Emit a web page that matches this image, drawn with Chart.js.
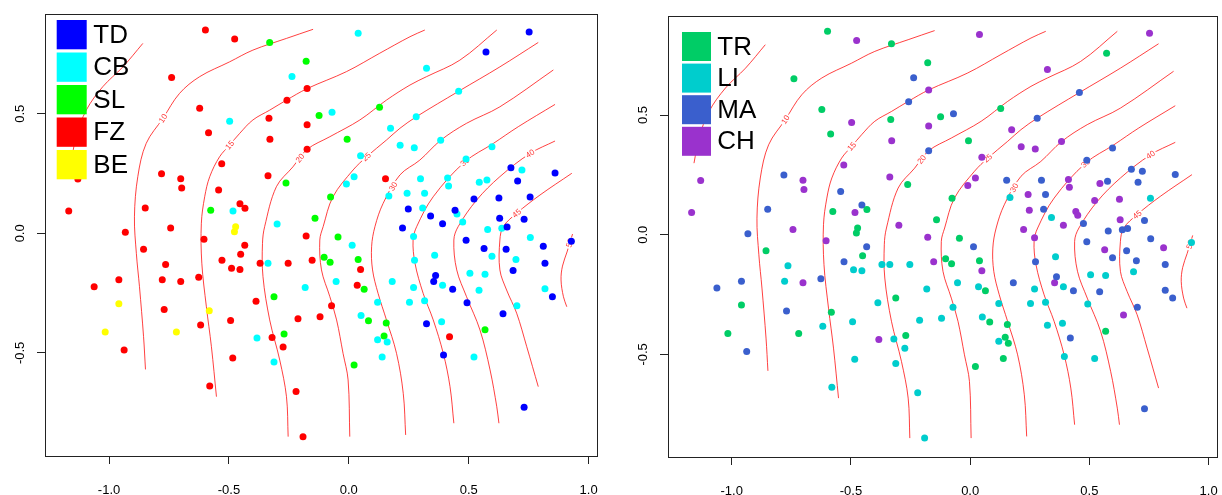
<!DOCTYPE html>
<html>
<head>
<meta charset="utf-8">
<script src="https://cdn.jsdelivr.net/npm/chart.js@4.4.0/dist/chart.umd.min.js"></script>
<style>
  html, body { margin: 0; padding: 0; background: #fff; }
  #wrap { position: relative; width: 1222px; height: 495px; }
  .panel { position: absolute; top: 0; width: 611px; height: 495px; }
  #left { left: 0; }
  #right { left: 611px; }
</style>
</head>
<body>
<div id="wrap">
  <div class="panel" id="left"><canvas id="chartL" width="611" height="495"></canvas></div>
  <div class="panel" id="right"><canvas id="chartR" width="611" height="495"></canvas></div>
</div>
<script>
// Sample positions (same points in both panels)
const ptX = [-0.598, -0.739, -0.622, -0.585, -0.497, -0.530, -0.781, -0.701, -0.697, -0.543,
  -1.168, -0.849, -0.576, -1.130, -0.743, -0.932, -0.483, -0.476, -0.330, 0.039,
  -0.178, -0.237, -0.174, -0.258, 0.128, -0.124, -0.070, -0.333, -0.174, -0.329,
  -0.007, 0.174, 0.214, -0.174, 0.049, -0.337, -0.262, 0.022, -0.010, 0.153,
  0.243, 0.167, 0.248, 0.224, -0.076, -0.454, -0.433, -0.472, -0.299, -0.141,
  0.752, 0.572, 0.324, 0.458, 0.281, 0.383, 0.273, 0.597, 0.489, 0.676,
  0.722, 0.860, 0.704, 0.299, 0.412, 0.416, 0.544, 0.576, 0.316, 0.522,
  0.626, 0.756, 0.308, 0.443, 0.451, 0.341, 0.391, 0.475, 0.629, 0.731,
  0.579, 0.638, 0.660, 0.270, 0.757, 0.928, 0.811, 0.489, 0.564, 0.656,
  0.358, 0.597, 0.274, 0.697, 0.818, 0.685, 0.505, 0.568, 0.362, 0.354,
  0.391, 0.433, 0.270, 0.543, 0.818, 0.849, 0.253, 0.316, 0.493, 0.701,
  0.643, 0.324, 0.387, 0.568, 0.420, 0.395, 0.522, 0.731, -0.477, -0.178,
  -0.045, 0.014, -0.434, -0.451, -0.529, -0.370, -0.337, -0.253, -0.153, -0.103,
  -0.078, 0.039, 0.049, -0.489, -0.454, -0.053, 0.181, 0.035, 0.064, -0.182,
  -0.312, -0.387, 0.120, -0.072, -0.493, -0.212, -0.120, 0.051, 0.082, 0.156,
  -0.383, -0.320, -0.270, -0.274, 0.147, 0.120, 0.160, -0.484, -0.312, 0.139,
  0.022, -0.220, -0.191, -0.604, -0.856, -0.764, -0.959, -0.778, -0.701, -0.626,
  -1.062, -0.959, -0.770, -0.582, -0.618, -1.016, -0.719, -0.937, -0.580];
const ptY = [0.850, 0.652, 0.523, 0.421, 0.469, 0.291, 0.249, 0.228, 0.189, 0.181,
  0.093, 0.106, 0.097, 0.227, 0.022, 0.004, 0.093, 0.812, 0.798, 0.837,
  0.719, 0.656, 0.605, 0.556, 0.527, 0.493, 0.506, 0.481, 0.454, 0.393,
  0.393, 0.439, 0.368, 0.351, 0.324, 0.241, 0.210, 0.237, 0.206, 0.228,
  0.168, 0.156, 0.102, 0.022, 0.152, 0.124, 0.105, 0.028, 0.039, 0.063,
  0.842, 0.758, 0.690, 0.594, 0.487, 0.389, 0.358, 0.362, 0.311, 0.274,
  0.265, 0.252, 0.219, 0.228, 0.231, 0.198, 0.214, 0.223, 0.168, 0.143,
  0.148, 0.152, 0.106, 0.097, 0.081, 0.072, 0.040, 0.047, 0.063, 0.059,
  0.016, 0.021, 0.026, -0.013, -0.017, -0.033, -0.054, -0.029, -0.063, -0.067,
  -0.092, -0.096, -0.113, -0.109, -0.125, -0.155, -0.167, -0.171, -0.176, -0.201,
  -0.217, -0.234, -0.227, -0.238, -0.232, -0.265, -0.288, -0.282, -0.290, -0.303,
  -0.336, -0.378, -0.370, -0.403, -0.432, -0.509, -0.517, -0.727, 0.007, -0.011,
  -0.015, -0.050, -0.050, -0.088, -0.113, -0.125, -0.125, -0.125, -0.113, -0.100,
  -0.121, -0.109, -0.151, -0.146, -0.151, -0.201, -0.201, -0.217, -0.234, -0.227,
  -0.265, -0.284, -0.288, -0.303, -0.364, -0.357, -0.349, -0.344, -0.365, -0.375,
  -0.438, -0.436, -0.421, -0.475, -0.429, -0.445, -0.454, -0.521, -0.538, -0.517,
  -0.551, -0.661, -0.850, -0.025, -0.067, -0.130, -0.194, -0.194, -0.201, -0.184,
  -0.223, -0.294, -0.319, -0.324, -0.383, -0.413, -0.413, -0.488, -0.638];

// Group of each point, left panel and right panel
const groupLeft = ['FZ','FZ','FZ','FZ','CB','FZ','FZ','FZ','FZ','FZ',
  'FZ','FZ','SL','FZ','FZ','FZ','CB','FZ','SL','CB',
  'SL','CB','FZ','FZ','SL','SL','CB','FZ','FZ','FZ',
  'SL','CB','CB','FZ','CB','FZ','SL','CB','CB','FZ',
  'CB','CB','TD','TD','SL','FZ','FZ','BE','CB','SL',
  'TD','TD','CB','CB','CB','CB','CB','CB','CB','TD',
  'CB','TD','TD','CB','CB','CB','CB','CB','CB','TD',
  'TD','TD','CB','TD','CB','TD','TD','CB','TD','TD',
  'CB','CB','TD','CB','CB','TD','TD','TD','TD','TD',
  'CB','CB','CB','CB','TD','TD','CB','CB','TD','TD',
  'CB','TD','CB','CB','CB','TD','CB','CB','TD','CB',
  'TD','TD','CB','SL','FZ','TD','CB','TD','BE','FZ',
  'SL','CB','FZ','FZ','FZ','FZ','CB','FZ','FZ','SL',
  'SL','SL','FZ','FZ','FZ','CB','CB','FZ','SL','CB',
  'SL','FZ','CB','FZ','FZ','FZ','FZ','CB','SL','SL',
  'CB','FZ','SL','FZ','SL','CB','CB','FZ','CB','CB',
  'SL','FZ','FZ','FZ','FZ','FZ','FZ','FZ','FZ','FZ',
  'FZ','BE','FZ','BE','FZ','BE','BE','FZ','FZ'];
const groupRight = ['TR','TR','TR','TR','CH','CH','MA','CH','CH','MA',
  'CH','MA','TR','CH','CH','MA','CH','CH','TR','CH',
  'TR','MA','CH','MA','TR','TR','MA','TR','CH','CH',
  'TR','CH','CH','MA','CH','CH','TR','CH','CH','MA',
  'CH','LI','CH','CH','TR','MA','TR','TR','CH','TR',
  'CH','TR','CH','MA','MA','CH','CH','MA','MA','MA',
  'MA','MA','MA','MA','CH','CH','CH','MA','MA','CH',
  'CH','LI','MA','CH','CH','LI','CH','MA','CH','MA',
  'MA','MA','MA','CH','MA','LI','CH','MA','CH','MA',
  'LI','MA','MA','MA','MA','LI','LI','LI','MA','CH',
  'LI','MA','LI','MA','MA','MA','LI','LI','LI','MA',
  'CH','LI','LI','TR','MA','LI','LI','MA','TR','CH',
  'TR','MA','MA','TR','MA','LI','LI','LI','CH','TR',
  'TR','TR','CH','LI','LI','LI','MA','LI','TR','LI',
  'TR','LI','LI','LI','LI','LI','LI','LI','TR','TR',
  'CH','LI','TR','LI','TR','LI','TR','LI','LI','TR',
  'TR','LI','LI','CH','TR','LI','MA','LI','CH','MA',
  'MA','TR','MA','TR','LI','TR','TR','MA','LI'];

const catsLeft = ['TD', 'CB', 'SL', 'FZ', 'BE'];
const colorsLeft = ['#0000FF', '#00FFFF', '#00FF00', '#FF0000', '#FFFF00'];
const catsRight = ['TR', 'LI', 'MA', 'CH'];
const colorsRight = ['#00CD66', '#00CDCD', '#3A5FCD', '#9A32CD'];

const xTicks = [-1, -0.5, 0, 0.5, 1];
const xTickLabels = ['-1.0', '-0.5', '0.0', '0.5', '1.0'];
const yTicks = [-0.5, 0, 0.5];
const yTickLabels = ['-0.5', '0.0', '0.5'];

// Contour lines ([x, y] in data units)
const c05 = [[-0.859,0.794],[-0.942,0.696],[-1.026,0.613],[-1.095,0.515],[-1.137,0.404],[-1.158,0.299]];
const c10 = [[-0.149,0.853],[-0.260,0.815],[-0.400,0.766],[-0.497,0.717],[-0.622,0.655],[-0.706,0.585],
  [-0.775,0.481],[-0.845,0.376],[-0.880,0.237],[-0.894,0.069],[-0.886,-0.084],[-0.873,-0.223],[-0.856,-0.432],[-0.848,-0.569]];
const c15 = [[0.317,0.850],[0.255,0.822],[0.129,0.753],[-0.010,0.676],[-0.174,0.605],[-0.260,0.557],[-0.330,0.515],
  [-0.400,0.474],[-0.455,0.418],[-0.497,0.369],[-0.539,0.320],[-0.580,0.237],[-0.601,0.153],[-0.615,0.042],
  [-0.613,-0.125],[-0.594,-0.307],[-0.573,-0.474],[-0.552,-0.683]];
const c20 = [[0.617,0.850],[0.463,0.724],[0.324,0.655],[0.255,0.620],[0.157,0.557],[0.046,0.474],[-0.079,0.404],
  [-0.174,0.351],[-0.233,0.278],[-0.302,0.195],[-0.351,0.028],[-0.360,-0.042],[-0.358,-0.181],[-0.330,-0.362],
  [-0.288,-0.530],[-0.260,-0.683],[-0.253,-0.850]];
const c25 = [[0.790,0.798],[0.630,0.696],[0.458,0.594],[0.281,0.487],[0.213,0.439],[0.157,0.390],[0.074,0.320],
  [0.018,0.265],[-0.066,0.153],[-0.107,0.028],[-0.121,-0.028],[-0.114,-0.153],[-0.079,-0.265],[-0.051,-0.362],
  [-0.024,-0.502],[-0.003,-0.613],[0.004,-0.850]];
const c30 = [[0.853,0.683],[0.630,0.529],[0.491,0.460],[0.383,0.389],[0.296,0.306],[0.213,0.244],[0.143,0.125],
  [0.109,0.028],[0.095,-0.056],[0.099,-0.153],[0.122,-0.251],[0.157,-0.362],[0.199,-0.502],[0.227,-0.669],[0.237,-0.843]];
const c35 = [[0.860,0.539],[0.707,0.446],[0.603,0.376],[0.484,0.299],[0.352,0.153],[0.283,0.028],[0.268,-0.028],
  [0.276,-0.125],[0.310,-0.251],[0.352,-0.362],[0.394,-0.502],[0.422,-0.641],[0.438,-0.794]];
const c40 = [[0.860,0.386],[0.756,0.334],[0.630,0.237],[0.533,0.139],[0.456,0.028],[0.438,-0.028],[0.450,-0.153],
  [0.491,-0.265],[0.547,-0.404],[0.589,-0.571],[0.617,-0.725],[0.626,-0.794]];
const c45 = [[0.930,0.251],[0.797,0.160],[0.700,0.084],[0.644,0.028],[0.630,-0.028],[0.630,-0.153],[0.658,-0.237],
  [0.700,-0.334],[0.742,-0.474],[0.790,-0.641]];
const c50 = [[0.933,-0.003],[0.910,-0.078],[0.891,-0.137],[0.885,-0.195],[0.895,-0.265],[0.909,-0.307]];

const contourSet = [c05, c10, c15, c20, c25, c30, c35, c40, c45, c50];
const contourLevels = ['', '10', '15', '20', '25', '30', '35', '40', '45', '50'];
const contourLabelAt = [null, 6, 9, 7.5, 6, 5.4, 3, 1, 2, 0.5];

const xMin = -1.267, xMax = 1.035;

function buildDatasets(groups, cats, colors) {
  const sets = [];
  cats.forEach((c, k) => {
    const pts = [];
    for (let i = 0; i < ptX.length; i++) {
      if (groups[i] === c) pts.push({ x: ptX[i], y: ptY[i] });
    }
    sets.push({
      label: c, data: pts, backgroundColor: colors[k], borderColor: colors[k],
      borderWidth: 0, pointRadius: 3.5, pointHoverRadius: 3.5, order: 0
    });
  });
  contourSet.forEach((line, k) => {
    sets.push({
      label: 'level ' + contourLevels[k],
      data: line.map(p => ({ x: p[0], y: p[1] })),
      showLine: true, pointRadius: 0, pointHoverRadius: 0,
      borderColor: 'rgba(255,0,0,0.75)', borderWidth: 1, tension: 0.35, fill: false,
      order: 1, levelText: contourLevels[k], labelAt: contourLabelAt[k]
    });
  });
  return sets;
}

// contour labels, drawn right after each contour line (under the points)
const contourLabelPlugin = {
  id: 'contourLabels',
  afterDatasetDraw(chart, args) {
    const ds = chart.data.datasets[args.index];
    if (!ds.levelText || ds.labelAt == null) return;
    const xs = chart.scales.x, ys = chart.scales.y;
    const px = ds.data.map(p => ({ x: xs.getPixelForValue(p.x), y: ys.getPixelForValue(p.y) }));
    const f = ds.labelAt;
    const i = Math.min(Math.floor(f), px.length - 2);
    const t = f - i;
    const x = px[i].x + (px[i + 1].x - px[i].x) * t;
    const y = px[i].y + (px[i + 1].y - px[i].y) * t;
    const a0 = px[Math.max(i - (t === 0 ? 1 : 0), 0)], a1 = px[i + 1];
    let ang = Math.atan2(a1.y - a0.y, a1.x - a0.x);
    if (ang > Math.PI / 2) ang -= Math.PI;
    if (ang < -Math.PI / 2) ang += Math.PI;
    const ctx = chart.ctx;
    ctx.save();
    ctx.translate(x, y);
    ctx.rotate(ang);
    ctx.font = '8px "Liberation Sans", Arial, sans-serif';
    const w = ctx.measureText(ds.levelText).width;
    ctx.fillStyle = '#fff';
    ctx.fillRect(-w / 2 - 1.5, -4, w + 3, 8);
    ctx.fillStyle = 'rgba(255,0,0,0.8)';
    ctx.textAlign = 'center';
    ctx.textBaseline = 'middle';
    ctx.fillText(ds.levelText, 0, 0.5);
    ctx.restore();
  }
};

const boxPlugin = {
  id: 'plotBox',
  afterDraw(chart) {
    const { ctx, chartArea: a } = chart;
    ctx.save();
    ctx.strokeStyle = '#222';
    ctx.lineWidth = 1;
    ctx.strokeRect(Math.round(a.left) + 0.5, Math.round(a.top) + 0.5,
      Math.round(a.right - a.left), Math.round(a.bottom - a.top));
    ctx.restore();
  }
};

function legendPlugin(cats, colors, cfg) {
  return {
    id: 'boxLegend',
    afterDraw(chart) {
      const { ctx, chartArea: a } = chart;
      ctx.save();
      ctx.font = cfg.font;
      ctx.textBaseline = 'middle';
      cats.forEach((c, i) => {
        const top = a.top + cfg.dy + i * cfg.step;
        ctx.fillStyle = colors[i];
        ctx.fillRect(a.left + cfg.dx, top, cfg.w, cfg.h);
        ctx.fillStyle = '#000';
        ctx.fillText(c, a.left + cfg.tx, top + cfg.h / 2 + 1);
      });
      ctx.restore();
    }
  };
}

function makeOptions(yWidth, xHeight, pad, yMin, yMax) {
  const tickFont = { family: '"Liberation Sans", Arial, sans-serif', size: 13 };
  return {
    responsive: false,
    animation: false,
    devicePixelRatio: 1,
    layout: { padding: pad },
    plugins: { legend: { display: false }, tooltip: { enabled: false } },
    scales: {
      x: {
        type: 'linear', min: xMin, max: xMax,
        afterBuildTicks: s => { s.ticks = xTicks.map(v => ({ value: v })); },
        afterFit: s => { s.height = xHeight; s.paddingLeft = 0; s.paddingRight = 0; },
        grid: { drawOnChartArea: false, drawTicks: true, tickLength: 8, color: '#222' },
        border: { display: false },
        ticks: {
          font: tickFont, color: '#000', padding: 19, maxRotation: 0, autoSkip: false,
          callback: (v, i) => xTickLabels[i]
        }
      },
      y: {
        type: 'linear', min: yMin, max: yMax,
        afterBuildTicks: s => { s.ticks = yTicks.map(v => ({ value: v })); },
        afterFit: s => { s.width = yWidth; s.paddingTop = 0; s.paddingBottom = 0; },
        grid: { drawOnChartArea: false, drawTicks: true, tickLength: 8, color: '#222' },
        border: { display: false },
        ticks: {
          font: tickFont, color: '#000', padding: 5, minRotation: 90, maxRotation: 90,
          crossAlign: 'center', autoSkip: false,
          callback: (v, i) => yTickLabels[i]
        }
      }
    }
  };
}

const chartL = new Chart(document.getElementById('chartL'), {
  type: 'scatter',
  data: { datasets: buildDatasets(groupLeft, catsLeft, colorsLeft) },
  options: makeOptions(45, 39, { left: 0, right: 14, top: 14, bottom: 0 }, -0.931, 0.917),
  plugins: [contourLabelPlugin, boxPlugin,
    legendPlugin(catsLeft, colorsLeft, { font: '26px "Liberation Sans", Arial, sans-serif',
      dx: 11.7, dy: 6, w: 30, h: 29.3, step: 32.5, tx: 48.3 })]
});

const chartR = new Chart(document.getElementById('chartR'), {
  type: 'scatter',
  data: { datasets: buildDatasets(groupRight, catsRight, colorsRight) },
  options: makeOptions(57, 38, { left: 0, right: 5, top: 16, bottom: 0 }, -0.929, 0.914),
  plugins: [contourLabelPlugin, boxPlugin,
    legendPlugin(catsRight, colorsRight, { font: '26px "Liberation Sans", Arial, sans-serif',
      dx: 14, dy: 16, w: 29, h: 29, step: 31.6, tx: 49.3 })]
});
</script>
</body>
</html>
